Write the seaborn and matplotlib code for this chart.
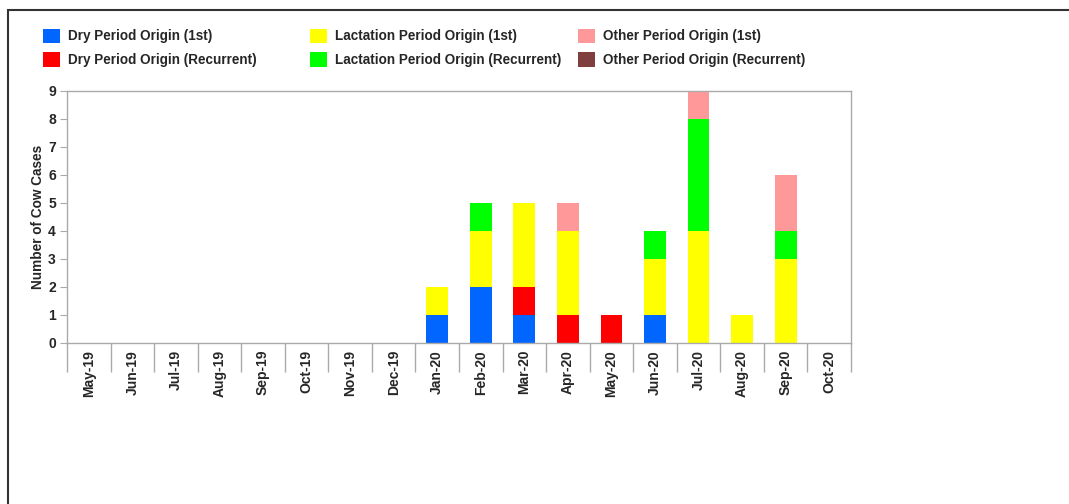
import numpy as np
import pandas as pd
import matplotlib
matplotlib.use("Agg")
import matplotlib.pyplot as plt
import matplotlib.patches as mpatches
import seaborn as sns

months = ["May-19", "Jun-19", "Jul-19", "Aug-19", "Sep-19", "Oct-19", "Nov-19", "Dec-19",
          "Jan-20", "Feb-20", "Mar-20", "Apr-20", "May-20", "Jun-20", "Jul-20", "Aug-20",
          "Sep-20", "Oct-20"]
dry_1st = [0, 0, 0, 0, 0, 0, 0, 0, 1, 2, 1, 0, 0, 1, 0, 0, 0, 0]
dry_rec = [0, 0, 0, 0, 0, 0, 0, 0, 0, 0, 1, 1, 1, 0, 0, 0, 0, 0]
lact_1st = [0, 0, 0, 0, 0, 0, 0, 0, 1, 2, 3, 3, 0, 2, 4, 1, 3, 0]
lact_rec = [0, 0, 0, 0, 0, 0, 0, 0, 0, 1, 0, 0, 0, 1, 4, 0, 1, 0]
other_1st = [0, 0, 0, 0, 0, 0, 0, 0, 0, 0, 0, 1, 0, 0, 1, 0, 2, 0]
other_rec = [0, 0, 0, 0, 0, 0, 0, 0, 0, 0, 0, 0, 0, 0, 0, 0, 0, 0]

series = [
    ("Dry Period Origin (1st)", dry_1st, "#0066FF"),
    ("Dry Period Origin (Recurrent)", dry_rec, "#FF0000"),
    ("Lactation Period Origin (1st)", lact_1st, "#FFFF00"),
    ("Lactation Period Origin (Recurrent)", lact_rec, "#00FF00"),
    ("Other Period Origin (1st)", other_1st, "#FF9999"),
    ("Other Period Origin (Recurrent)", other_rec, "#7F3F3F"),
]

sns.set_style("white")
plt.rcParams["font.family"] = ["Liberation Sans", "DejaVu Sans"]

fig = plt.figure(figsize=(10.69, 5.04), dpi=100)
ax = fig.add_axes([67 / 1069, 1 - 343 / 504, 784 / 1069, 252 / 504])

# stacked bars: draw cumulative totals from the top layer down
cum = np.zeros(len(months))
cums = []
for name, vals, col in series:
    cum = cum + np.array(vals)
    cums.append((name, cum.copy(), col))
for name, c, col in reversed(cums):
    sns.barplot(x=months, y=c, color=col, width=0.5, linewidth=0,
                saturation=1, ax=ax)

ax.set_xlim(-0.5, len(months) - 0.5)
ax.set_ylim(0, 9)
ax.set_yticks(range(10))
ax.set_ylabel("Number of Cow Cases", fontsize=9.8, fontweight="bold", labelpad=2)
ax.set_xlabel("")

for s in ax.spines.values():
    s.set_color("#AAAAAA")
    s.set_linewidth(1)

ax.tick_params(axis="y", length=5, color="#AAAAAA", left=True, labelsize=10, pad=3)
for lab in ax.get_yticklabels():
    lab.set_fontweight("bold")

# category separators below the axis
ax.set_xticks(np.arange(-0.5, len(months), 1), minor=True)
ax.tick_params(axis="x", which="minor", length=21, color="#AAAAAA", width=1, bottom=True)
ax.tick_params(axis="x", which="major", length=0, labelsize=10, pad=5)
ax.set_xticks(range(len(months)))
ax.set_xticklabels(months, rotation=90, fontweight="bold", va="top")

# legends: three columns
handles = [mpatches.Patch(facecolor=col, edgecolor="none", label=name) for name, _, col in series]
for i, x0 in enumerate([40 / 1069, 307 / 1069, 575 / 1069]):
    fig.legend(handles=handles[2 * i:2 * i + 2], loc="upper left",
               bbox_to_anchor=(x0, 1 - 26 / 504), frameon=False,
               prop={"weight": "bold", "size": 9.75}, handlelength=1.25,
               handleheight=1.25, handletextpad=0.6, labelspacing=0.65,
               borderaxespad=0, borderpad=0.2)

# outer frame (top and left visible)
fig.patches.append(mpatches.Rectangle((8 / 1069, -0.1), 1.2, 1.1 - 10 / 504,
                                      transform=fig.transFigure, fill=False,
                                      edgecolor="#333333", linewidth=1.5))

fig.savefig("out.png", dpi=100)
